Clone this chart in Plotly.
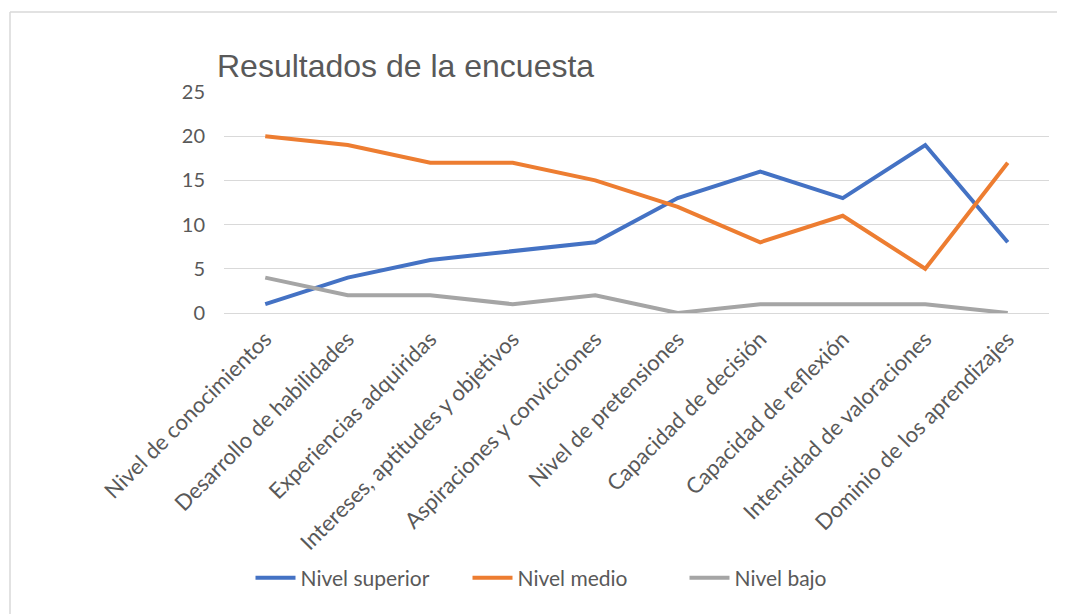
import plotly.graph_objects as go

categories = [
    "Nivel de conocimientos",
    "Desarrollo de habilidades",
    "Experiencias adquiridas",
    "Intereses, aptitudes y objetivos",
    "Aspiraciones y convicciones",
    "Nivel de pretensiones",
    "Capacidad de decisión",
    "Capacidad de reflexión",
    "Intensidad de valoraciones",
    "Dominio de los aprendizajes",
]
nivel_superior = [1, 4, 6, 7, 8, 13, 16, 13, 19, 8]
nivel_medio = [20, 19, 17, 17, 15, 12, 8, 11, 5, 17]
nivel_bajo = [4, 2, 2, 1, 2, 0, 1, 1, 1, 0]
y_ticks = [0, 5, 10, 15, 20, 25]

series = [
    ("Nivel superior", nivel_superior, "#4472C4"),
    ("Nivel medio", nivel_medio, "#ED7D31"),
    ("Nivel bajo", nivel_bajo, "#A5A5A5"),
]

fig = go.Figure()
for name, vals, color in series:
    fig.add_trace(go.Scatter(
        x=categories, y=vals, name=name, mode="lines",
        line=dict(color=color, width=4),
    ))

OFF = 8  # browser body margin
W, H = 1065 - OFF, 614 - OFF
L, R, T, B = 224 - OFF, 16, 92 - OFF, 301
pw, ph = W - L - R, H - T - B

def px_x(p):
    return (p - OFF - L) / pw

def px_y(p):
    return (H - B - (p - OFF)) / ph

fig.update_layout(
    width=W, height=H,
    margin=dict(l=L, r=R, t=T, b=B),
    paper_bgcolor="white", plot_bgcolor="white",
    title=dict(
        text="Resultados de la encuesta",
        x=(217 - OFF) / W, xanchor="left", y=1 - (66 - OFF) / H, yanchor="middle",
        font=dict(family="Liberation Sans, Arial", size=32, color="#595959"),
    ),
    font=dict(family="Lato, Open Sans, sans-serif", color="#595959", size=20),
    showlegend=True,
    legend=dict(
        orientation="h", x=px_x(576), xanchor="center",
        y=px_y(578), yanchor="middle",
        font=dict(size=21, color="#595959"),
        itemwidth=40, tracegroupgap=0,
        entrywidth=162, entrywidthmode="pixels",
    ),
    xaxis=dict(
        type="category", tickangle=-45, showgrid=False,
        showline=False, zeroline=False, ticks="",
        tickfont=dict(size=22, color="#595959"),
        range=[-0.5, len(categories) - 0.5],
        ticklabelstandoff=8,
    ),
    yaxis=dict(
        range=[0, 25], tickvals=y_ticks, showgrid=True,
        gridcolor="#D9D9D9", gridwidth=1, zeroline=True,
        zerolinecolor="#D9D9D9", zerolinewidth=1, showline=False,
        tickfont=dict(size=20, color="#595959"), ticklabelstandoff=18,
    ),
    shapes=[
        dict(type="line", xref="paper", yref="paper",
             x0=px_x(10), x1=px_x(1070), y0=px_y(12), y1=px_y(12),
             line=dict(color="#D9D9D9", width=1.5)),
        dict(type="line", xref="paper", yref="paper",
             x0=px_x(10), x1=px_x(10), y0=px_y(12), y1=px_y(620),
             line=dict(color="#D9D9D9", width=1.5)),
    ],
)

fig.write_html("out.html")
